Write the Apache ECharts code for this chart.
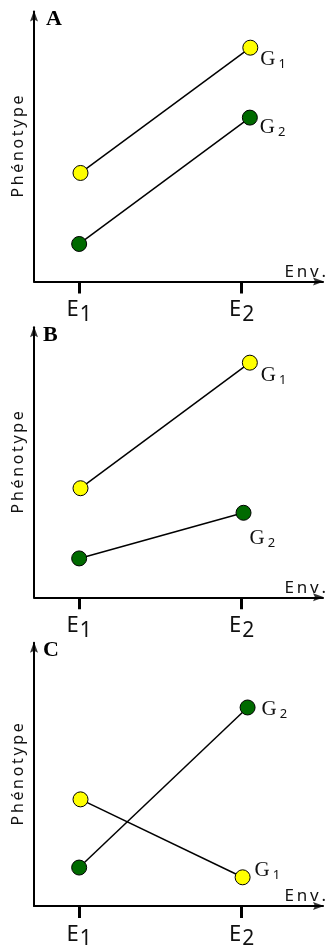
<!DOCTYPE html>
<html>
<head>
<meta charset="utf-8">
<script src="https://cdn.jsdelivr.net/npm/echarts@6/dist/echarts.min.js"></script>
<style>html,body{margin:0;padding:0;background:#fff}#chart{width:327px;height:950px}</style>
</head>
<body>
<div id="chart"></div>
<script>
// environment axis ticks and their labels (letter + subscript)
var envTicks = [1, 4.6];
var envLabels = [['E', '1'], ['E', '2']];
var panels = ['A', 'B', 'C'];
var genoLabels = [['G', '1'], ['G', '2']];

// [env position, phenotype] at E1 and E2, per panel
var g1A = [[1.03, 4.02], [4.79, 8.66]];
var g2A = [[1.0, 1.39], [4.78, 6.07]];
var g1B = [[1.03, 4.04], [4.78, 8.69]];
var g2B = [[1.0, 1.44], [4.64, 3.13]];
var g1C = [[1.03, 4.05], [4.62, 1.09]];
var g2C = [[1.0, 1.46], [4.73, 7.54]];

var g1Data = [g1A, g1B, g1C];
var g2Data = [g2A, g2B, g2C];

// axis extents
var xMax = 6.4, yMax = 10;

var gridTops = [11.5, 327.3, 642.7];
// label offsets next to the E2 point
var g1Offsets = [[-1, 12], [0, 13], [1, -7]];
var g2Offsets = [[-1, 10], [-5, 26], [3, 2]];

var TS = '\u2009';
var sans = 'Noto Sans';
var serif = 'Liberation Serif';
var arrowPath = 'path://M0,0L4,11L0,9L-4,11Z';

var chart = echarts.init(document.getElementById('chart'));

var grids = [], xAxes = [], yAxes = [], series = [], titles = [];

function genoLabel(i, off) {
  return {
    show: true,
    position: 'right',
    distance: 3,
    offset: off,
    formatter: function (p) {
      return p.dataIndex === 1 ? '{g|' + genoLabels[i][0] + '}{s|' + genoLabels[i][1] + '}' : '';
    },
    rich: {
      g: {fontFamily: serif, fontSize: 21, color: '#111'},
      s: {fontFamily: sans, fontSize: 13, color: '#111', padding: [9, 0, 0, 3]}
    }
  };
}

panels.forEach(function (name, k) {
  grids.push({left: 34, width: 290, top: gridTops[k], height: 270});
  xAxes.push({
    gridIndex: k, type: 'value', min: 0, max: xMax,
    name: 'E' + TS + 'n' + TS + 'v' + TS + '.',
    nameLocation: 'end', nameGap: 3,
    nameTextStyle: {fontFamily: sans, fontSize: 17, color: '#111', align: 'right', verticalAlign: 'bottom', padding: [0, 0, 1, 0]},
    axisLine: {lineStyle: {color: '#000', width: 2}},
    axisTick: {show: true, customValues: envTicks, length: 12, lineStyle: {color: '#000', width: 3}},
    axisLabel: {
      show: true, customValues: envTicks, margin: 13,
      formatter: function (v) {
        var i = envTicks.indexOf(v);
        return '{e|' + envLabels[i][0] + '}{s|' + envLabels[i][1] + '}';
      },
      rich: {
        e: {fontFamily: sans, fontSize: 22, color: '#111'},
        s: {fontFamily: sans, fontSize: 21, color: '#111', padding: [10, 0, 0, 1]}
      }
    },
    splitLine: {show: false}
  });
  yAxes.push({
    gridIndex: k, type: 'value', min: 0, max: yMax,
    name: 'Phénotype'.split('').join(TS),
    nameLocation: 'middle', nameRotate: 90, nameGap: 8,
    nameTextStyle: {fontFamily: sans, fontSize: 16, color: '#111'},
    axisLine: {lineStyle: {color: '#000', width: 2}},
    axisTick: {show: false},
    axisLabel: {show: false},
    splitLine: {show: false}
  });
  titles.push({
    text: name, left: k === 0 ? 46 : 43, top: gridTops[k] - 3, padding: 0,
    textStyle: {fontFamily: serif, fontWeight: 'bold', fontSize: 22, color: '#000'}
  });
  series.push({
    type: 'line', xAxisIndex: k, yAxisIndex: k, data: g1Data[k],
    symbol: 'circle', symbolSize: 15,
    lineStyle: {color: '#000', width: 1.5},
    itemStyle: {color: '#ffff00', borderColor: '#000', borderWidth: 1},
    label: genoLabel(0, g1Offsets[k]),
    animation: false, z: 3
  });
  series.push({
    type: 'line', xAxisIndex: k, yAxisIndex: k, data: g2Data[k],
    symbol: 'circle', symbolSize: 15,
    lineStyle: {color: '#000', width: 1.5},
    itemStyle: {color: '#006a00', borderColor: '#000', borderWidth: 1},
    label: genoLabel(1, g2Offsets[k]),
    animation: false, z: 3
  });
  // arrow heads at the axis ends
  series.push({
    type: 'scatter', xAxisIndex: k, yAxisIndex: k, clip: false, silent: true,
    symbol: arrowPath, symbolSize: [8, 11], symbolOffset: [0, 4.5],
    itemStyle: {color: '#000'},
    data: [[0, yMax]], z: 10, animation: false
  });
  series.push({
    type: 'scatter', xAxisIndex: k, yAxisIndex: k, clip: false, silent: true,
    symbol: arrowPath, symbolSize: [8, 11], symbolRotate: -90, symbolOffset: [-4.5, 0],
    itemStyle: {color: '#000'},
    data: [[xMax, 0]], z: 10, animation: false
  });
});

chart.setOption({
  animation: false,
  title: titles,
  grid: grids,
  xAxis: xAxes,
  yAxis: yAxes,
  series: series
});
</script>
</body>
</html>
